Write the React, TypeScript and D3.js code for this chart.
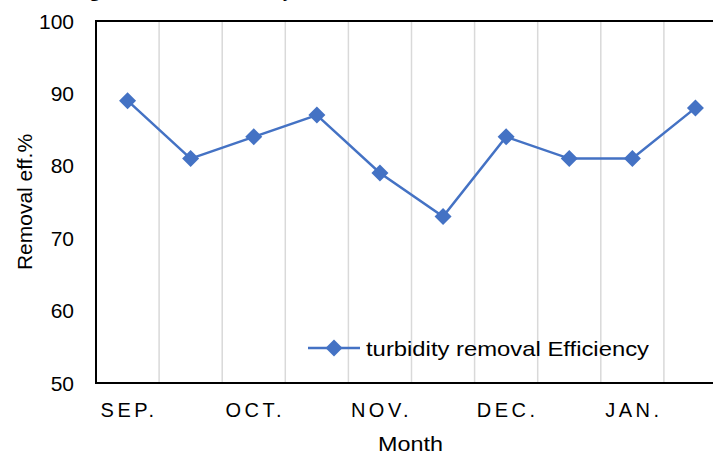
import React from "react";
import * as d3 from "d3";

const categories = ["SEP. a", "SEP. b", "OCT. a", "OCT. b", "NOV. a", "NOV. b", "DEC. a", "DEC. b", "JAN. a", "JAN. b"];
const efficiency = [89, 81, 84, 87, 79, 73, 84, 81, 81, 88];
const monthLabels = ["SEP.", "OCT.", "NOV.", "DEC.", "JAN."];
const monthIndex = [0, 2, 4, 6, 8];
const yTicks = [50, 60, 70, 80, 90, 100];
const seriesName = "turbidity removal Efficiency";
const titleText = "Fig. 4: Removal efficiency";

const W = 713;
const H = 455;
const left = 96;
const plotRight = 727;
const top = 21;
const bottom = 383;
const blue = "#4472C4";
const font = "'Liberation Sans', Arial, sans-serif";

export default function App() {
  const x = d3.scaleBand<string>().domain(categories).range([left, plotRight]).paddingInner(0).paddingOuter(0);
  const y = d3.scaleLinear().domain([50, 100]).range([bottom, top]);
  const cx = (i: number) => (x(categories[i]) as number) + x.bandwidth() / 2;
  const line = d3
    .line<number>()
    .x((_, i) => cx(i))
    .y((d) => y(d));
  const diamond = (px: number, py: number, r: number) =>
    `M${px},${py - r}L${px + r},${py}L${px},${py + r}L${px - r},${py}Z`;

  const gridXs = categories.map((c) => (x(c) as number)).slice(1);
  gridXs.push(plotRight);

  return (
    <svg
      width={W}
      height={H}
      style={{ position: "absolute", left: 0, top: 0, background: "#fff" }}
    >
      <rect x={0} y={0} width={W} height={H} fill="#fff" />
      <text
        x={72}
        y={-4}
        fontFamily="'Liberation Serif', 'Times New Roman', serif"
        fontWeight="bold"
        fontSize={20}
        fill="#000"
      >
        {titleText}
      </text>
      {gridXs.map((gx, i) => (
        <line key={i} x1={gx} x2={gx} y1={top} y2={bottom} stroke="#d9d9d9" strokeWidth={1.5} />
      ))}
      <line x1={left} x2={W} y1={top} y2={top} stroke="#000" strokeWidth={2} />
      <line x1={left} x2={W} y1={bottom} y2={bottom} stroke="#000" strokeWidth={2} />
      <line x1={left} x2={left} y1={top - 1} y2={bottom + 1} stroke="#000" strokeWidth={2} />
      {yTicks.map((t) => (
        <text
          key={t}
          x={74}
          y={y(t)}
          dy="0.36em"
          textAnchor="end"
          fontFamily={font}
          fontSize={21}
          fill="#000"
        >
          {t}
        </text>
      ))}
      {monthLabels.map((m, i) => (
        <text
          key={m}
          x={cx(monthIndex[i]) + 1.5}
          y={417}
          textAnchor="middle"
          fontFamily={font}
          fontSize={20}
          letterSpacing={3.5}
          fill="#000"
        >
          {m}
        </text>
      ))}
      <text
        x={378}
        y={451}
        textLength={65}
        lengthAdjust="spacingAndGlyphs"
        fontFamily={font}
        fontSize={21}
        fill="#000"
      >
        Month
      </text>
      <text
        transform={`translate(32,${(top + bottom) / 2}) rotate(-90)`}
        textAnchor="middle"
        fontFamily={font}
        fontSize={21}
        fill="#000"
      >
        Removal eff.%
      </text>
      <path d={line(efficiency) || ""} fill="none" stroke={blue} strokeWidth={2.5} />
      {efficiency.map((v, i) => (
        <path key={i} d={diamond(cx(i), y(v), 8.5)} fill={blue} />
      ))}
      <line x1={308} x2={360} y1={348} y2={348} stroke={blue} strokeWidth={2.5} />
      <path d={diamond(334, 348, 8.5)} fill={blue} />
      <text
        x={366}
        y={348}
        dy="0.36em"
        textLength={283}
        lengthAdjust="spacingAndGlyphs"
        fontFamily={font}
        fontSize={21}
        fill="#000"
      >
        {seriesName}
      </text>
    </svg>
  );
}
